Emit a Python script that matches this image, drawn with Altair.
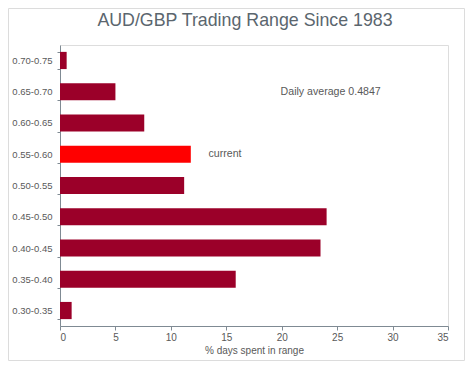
import altair as alt
import pandas as pd

ranges = ["0.70-0.75", "0.65-0.70", "0.60-0.65", "0.55-0.60", "0.50-0.55",
          "0.45-0.50", "0.40-0.45", "0.35-0.40", "0.30-0.35"]
pct_days = [0.6, 5.0, 7.6, 11.8, 11.2, 24.05, 23.5, 15.85, 1.05]
status = ["past", "past", "past", "current", "past", "past", "past", "past", "past"]

ann_text = ["Daily average 0.4847", "current"]
ann_x = [19.9, 13.4]
ann_range = ["0.65-0.70", "0.55-0.60"]

title_text = "AUD/GBP Trading Range Since 1983"

df = pd.DataFrame({"range": ranges, "pct": pct_days, "status": status})
ann = pd.DataFrame({"text": ann_text, "x": ann_x, "range": ann_range})

FONT = "Liberation Sans"
GRAY = "#595959"

y_enc = alt.Y("range:N", sort=ranges, title=None,
              scale=alt.Scale(paddingInner=0.45, paddingOuter=0.22),
              axis=alt.Axis(labelFont=FONT, labelFontSize=9.5, labelColor=GRAY,
                            labelPadding=5, tickSize=3, tickBand="extent",
                            tickColor="#7f8a93", domainColor="#7f8a93"))
x_scale = alt.Scale(domain=[0, 35], nice=False)

bars = alt.Chart(df).mark_bar().encode(
    x=alt.X("pct:Q", scale=x_scale, title="% days spent in range",
            axis=alt.Axis(values=[0, 5, 10, 15, 20, 25, 30, 35], grid=False,
                          labelFont=FONT, labelFontSize=10, labelColor=GRAY,
                          labelPadding=2, tickSize=4, tickColor="#7f8a93",
                          domainColor="#7f8a93", titleFont=FONT,
                          titleFontSize=10, titleFontWeight="normal",
                          titleColor=GRAY, titlePadding=3)),
    y=y_enc,
    color=alt.Color("status:N", legend=None,
                    scale=alt.Scale(domain=["past", "current"],
                                    range=["#9b0029", "#ff0000"])),
)

texts = alt.Chart(ann).mark_text(align="left", baseline="middle", font=FONT,
                                 fontSize=10.6, color=GRAY).encode(
    x=alt.X("x:Q", scale=x_scale),
    y=alt.Y("range:N", sort=ranges),
    text="text:N",
)

title = alt.Chart(pd.DataFrame({"t": [title_text]})).mark_text(
    align="center", baseline="middle", font=FONT, fontSize=17.8, color="#5b666e"
).encode(x=alt.value(185), y=alt.value(-24), text="t:N")

frame = alt.Chart(pd.DataFrame({"a": [0]})).mark_rect(
    fill=None, stroke="#dcdcdc", strokeWidth=1, clip=False
).encode(x=alt.value(-51.5), x2=alt.value(404.5), y=alt.value(-36.5), y2=alt.value(315.5))

chart = alt.layer(frame, bars, texts, title).properties(
    width=388, height=281,
    autosize=alt.AutoSizeParams(type="none"),
    padding={"left": 52, "top": 37, "right": 17, "bottom": 35},
).configure_view(stroke="#8a949c", strokeWidth=1).configure(background="white")

chart.save("out.html", embed_options={"renderer": "svg", "actions": False})
